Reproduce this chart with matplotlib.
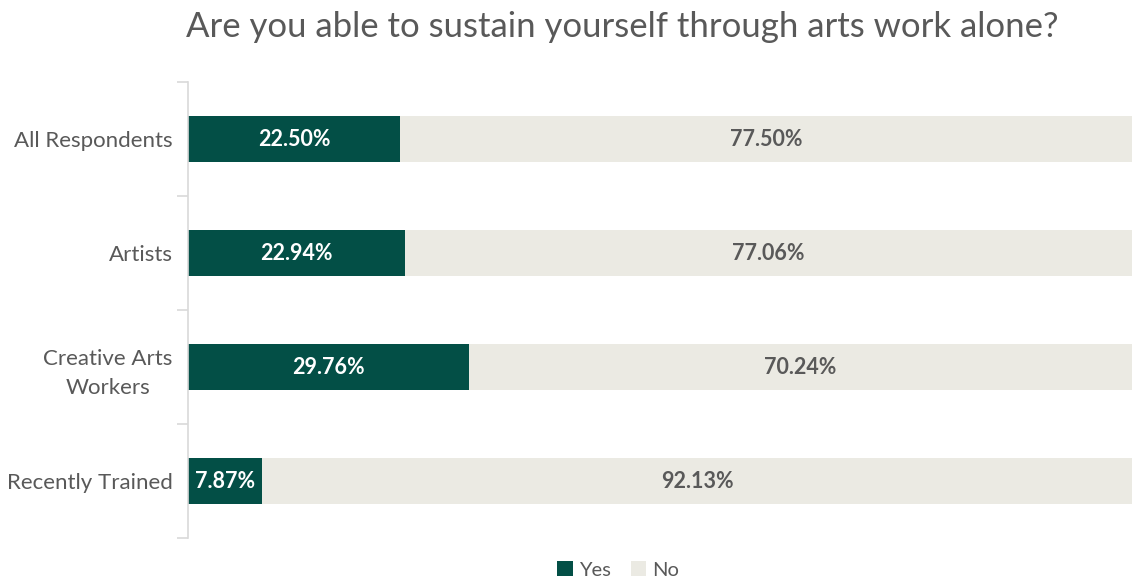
import numpy as np
import matplotlib.pyplot as plt

plt.rcParams['font.family'] = ['Lato', 'DejaVu Sans']

# Survey responses by group (percent)
groups = ['All Respondents', 'Artists', 'Creative Arts\nWorkers', 'Recently Trained']
yes_pct = [22.50, 22.94, 29.76, 7.87]
no_pct = [77.50, 77.06, 70.24, 92.13]

green = '#034F46'
light = '#EBEAE3'
gray = '#595959'

fig = plt.figure(figsize=(11.32, 5.81), dpi=100)
ax = fig.add_axes([188 / 1132, 1 - 538 / 581, 1 - 188 / 1132, (538 - 82) / 581])

y = np.arange(len(groups))
ax.barh(y, yes_pct, height=0.4, color=green, label='Yes')
ax.barh(y, no_pct, left=yes_pct, height=0.4, color=light, label='No')

for i in range(len(groups)):
    ax.text(yes_pct[i] / 2, y[i], f'{yes_pct[i]:.2f}%', ha='center', va='center',
            color='white', fontsize=15.5, fontweight='bold')
    ax.text(yes_pct[i] + no_pct[i] / 2, y[i], f'{no_pct[i]:.2f}%', ha='center', va='center',
            color=gray, fontsize=15.5, fontweight='bold')

ax.set_xlim(0, 100)
ax.set_ylim(len(groups) - 0.5, -0.5)
ax.set_xticks([])
ax.set_yticks(y)
ax.set_yticklabels(groups, fontsize=16, color=gray, linespacing=1.55, multialignment='center')
ax.tick_params(axis='y', which='major', length=0, pad=11)
ax.set_yticks(np.arange(-0.5, len(groups)), minor=True)
ax.tick_params(axis='y', which='minor', length=8, color='#D9D9D9', width=1.2)

for s in ['top', 'right', 'bottom']:
    ax.spines[s].set_visible(False)
ax.spines['left'].set_color('#D9D9D9')
ax.spines['left'].set_linewidth(1.2)

fig.text(622 / 1132, 1 - 27 / 581, 'Are you able to sustain yourself through arts work alone?',
         ha='center', va='center', fontsize=25, color=gray)

fig.legend(loc='center', bbox_to_anchor=(618 / 1132, 1 - 570 / 581), ncol=2, frameon=False,
           fontsize=14.5, labelcolor=gray, handlelength=0.75, handleheight=0.75,
           handletextpad=0.3, columnspacing=1.0)

fig.savefig('out.png', dpi=100)
